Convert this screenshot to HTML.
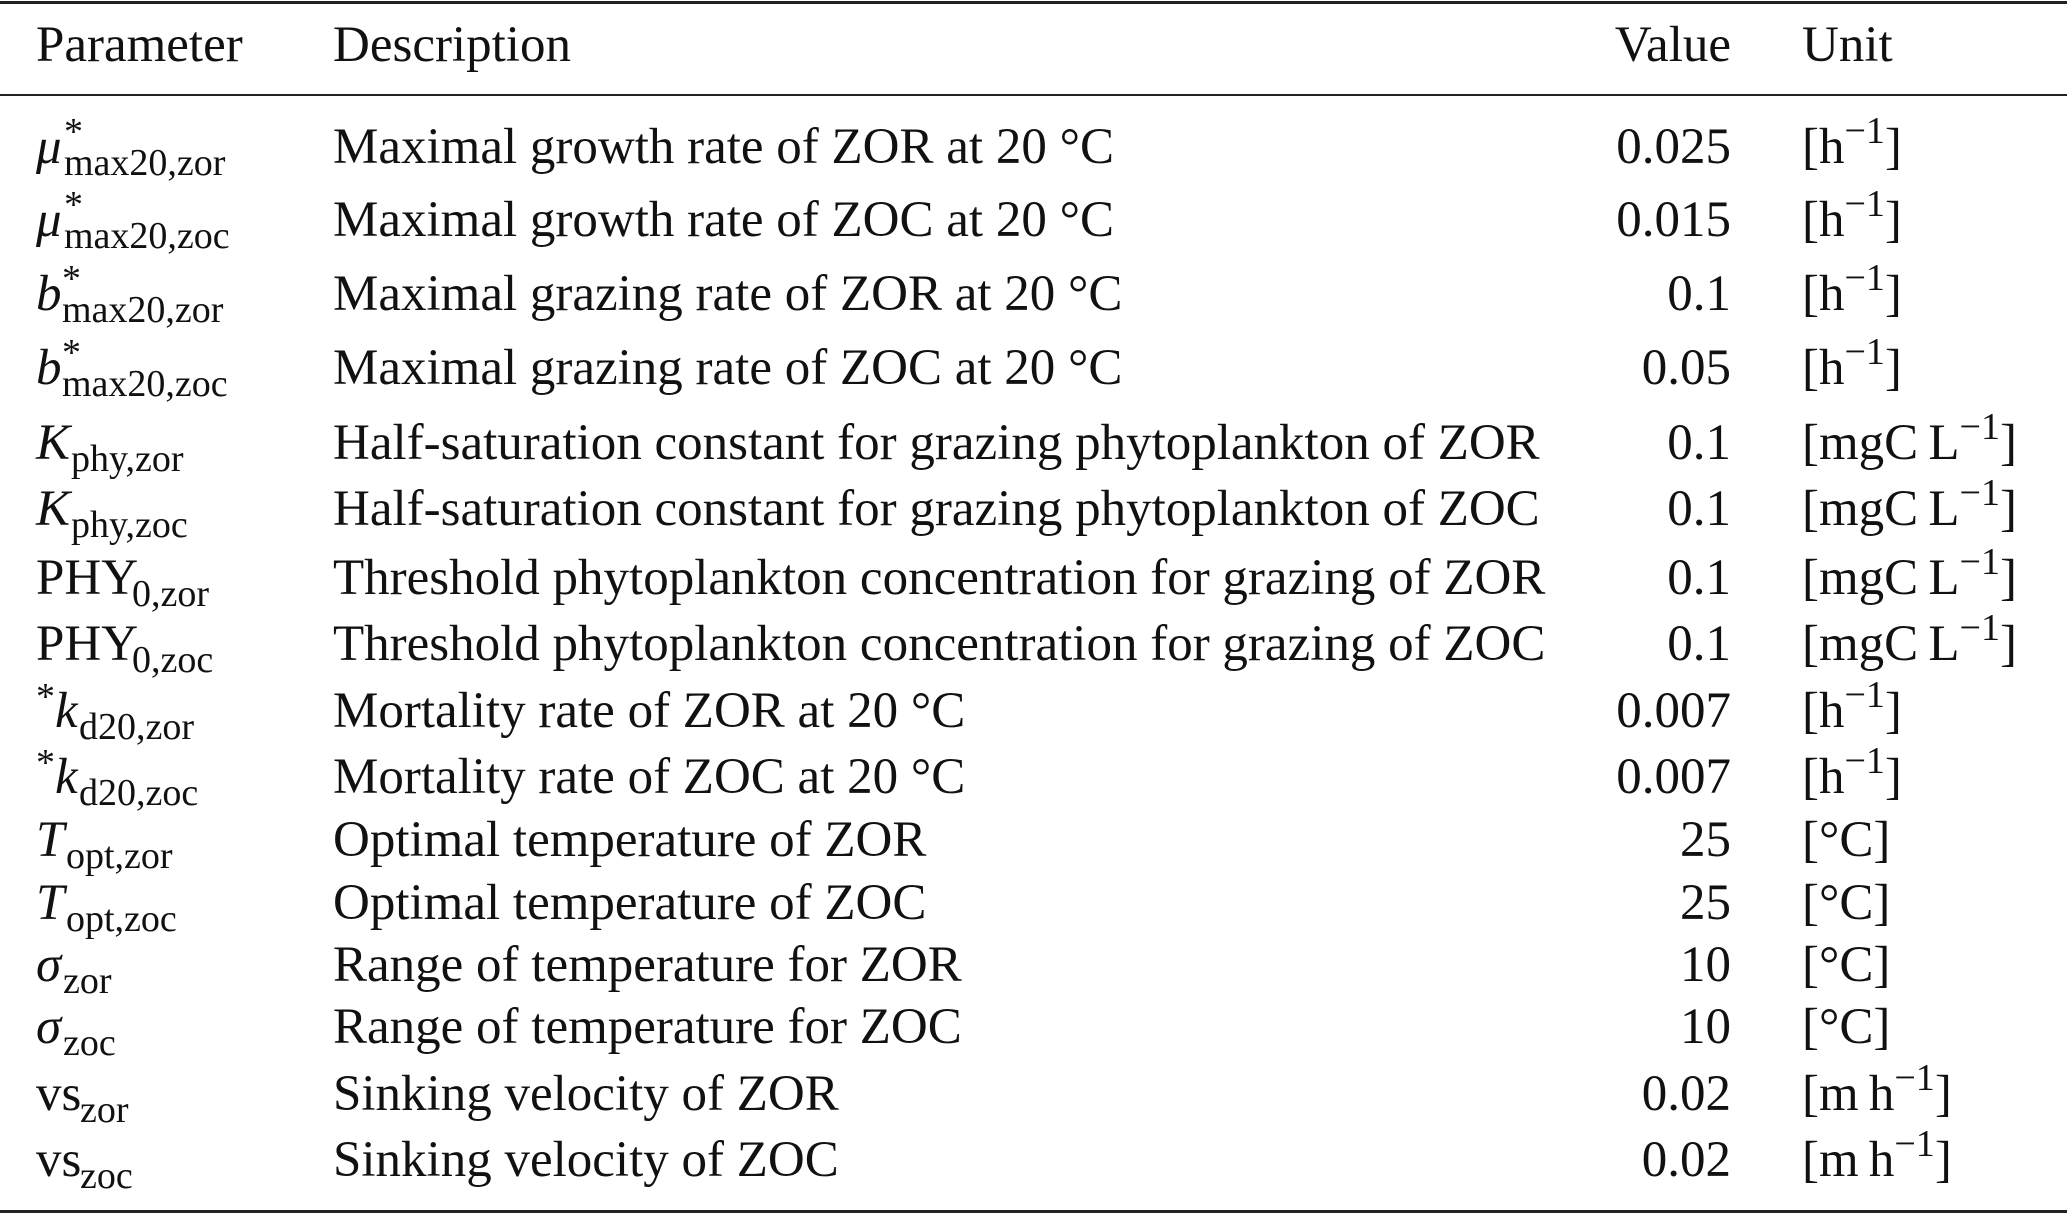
<!DOCTYPE html>
<html><head><meta charset="utf-8">
<style>
html,body{margin:0;padding:0;background:#fff;}
svg{display:block;}
text{font-family:"Liberation Serif",serif;font-size:51px;fill:#111;}
.s{font-size:38px;}
.i{font-style:italic;}
</style></head>
<body>
<svg width="2067" height="1215" viewBox="0 0 2067 1215">
<rect x="0" y="1" width="2067" height="3" fill="#222"/>
<rect x="0" y="94" width="2067" height="2" fill="#222"/>
<rect x="0" y="1210" width="2067" height="3" fill="#222"/>
<g>
<text x="36" y="61">Parameter</text>
<text x="333" y="61">Description</text>
<text x="1731" y="61" text-anchor="end">Value</text>
<text x="1802" y="61">Unit</text>
</g>
<g id="rows"></g>
<script>
const params = [
 ['μ','*','max20,zor',1],['μ','*','max20,zoc',1],['b','*','max20,zor',1],['b','*','max20,zoc',1],
 ['K','','phy,zor',1],['K','','phy,zoc',1],['PHY','','0,zor',0],['PHY','','0,zoc',0],
 ['k','pre','d20,zor',1],['k','pre','d20,zoc',1],['T','','opt,zor',1],['T','','opt,zoc',1],
 ['σ','','zor',1],['σ','','zoc',1],['vs','','zor',0],['vs','','zoc',0]];
const descs = ['Maximal growth rate of ZOR at 20 °C','Maximal growth rate of ZOC at 20 °C',
 'Maximal grazing rate of ZOR at 20 °C','Maximal grazing rate of ZOC at 20 °C',
 'Half-saturation constant for grazing phytoplankton of ZOR','Half-saturation constant for grazing phytoplankton of ZOC',
 'Threshold phytoplankton concentration for grazing of ZOR','Threshold phytoplankton concentration for grazing of ZOC',
 'Mortality rate of ZOR at 20 °C','Mortality rate of ZOC at 20 °C','Optimal temperature of ZOR','Optimal temperature of ZOC',
 'Range of temperature for ZOR','Range of temperature for ZOC','Sinking velocity of ZOR','Sinking velocity of ZOC'];
const values = ['0.025','0.015','0.1','0.05','0.1','0.1','0.1','0.1','0.007','0.007','25','25','10','10','0.02','0.02'];
const units = ['h','h','h','h','mgC\u2009L','mgC\u2009L','mgC\u2009L','mgC\u2009L','h','h','°C','°C','°C','°C','m\u2009h','m\u2009h'];
const baselines = [163,236,310,384,459,525,594,660,727,793,856,919,981,1043,1110,1176];
const g = document.getElementById('rows');
const NS='http://www.w3.org/2000/svg';
function txt(x,y,cls){const t=document.createElementNS(NS,'text');t.setAttribute('x',x);t.setAttribute('y',y);if(cls)t.setAttribute('class',cls);return t;}
function ts(parent,str,cls,dy,x){const s=document.createElementNS(NS,'tspan');s.textContent=str;if(cls)s.setAttribute('class',cls);if(dy!==undefined)s.setAttribute('dy',dy);if(x!==undefined)s.setAttribute('x',x);parent.appendChild(s);return s;}
const widths={'μ':28,'b':26,'K':35,'PHY':96,'T':30,'σ':27,'vs':44,'k':24};
params.forEach((p,i)=>{
 const y=baselines[i];
 const t=txt(36,y);
 
 
 let x0=36;
 if(p[1]==='pre'){ts(t,'*','s',-18);ts(t,p[0],p[3]?'i':'',18);x0=36+19;}
 else ts(t,p[0],p[3]?'i':'');
 const sx=x0+widths[p[0]];
 if(p[1]==='*'){ts(t,'*','s',-19,sx);ts(t,p[2],'s',31,sx);}
 else ts(t,p[2],'s',12,sx);
 g.appendChild(t);
 const d=txt(333,y);d.textContent=descs[i];
 
 
 g.appendChild(d);
 const v=txt(1731,y);v.setAttribute('text-anchor','end');v.textContent=values[i];
 
 
 g.appendChild(v);
 const u=txt(1802,y);
 
 
 if(units[i]==='°C'){u.textContent='[°C]';}
 else{ts(u,'['+units[i]);ts(u,'−1','s',-20);ts(u,']','',20);}
 g.appendChild(u);
});
</script>
</svg>
</body></html>
